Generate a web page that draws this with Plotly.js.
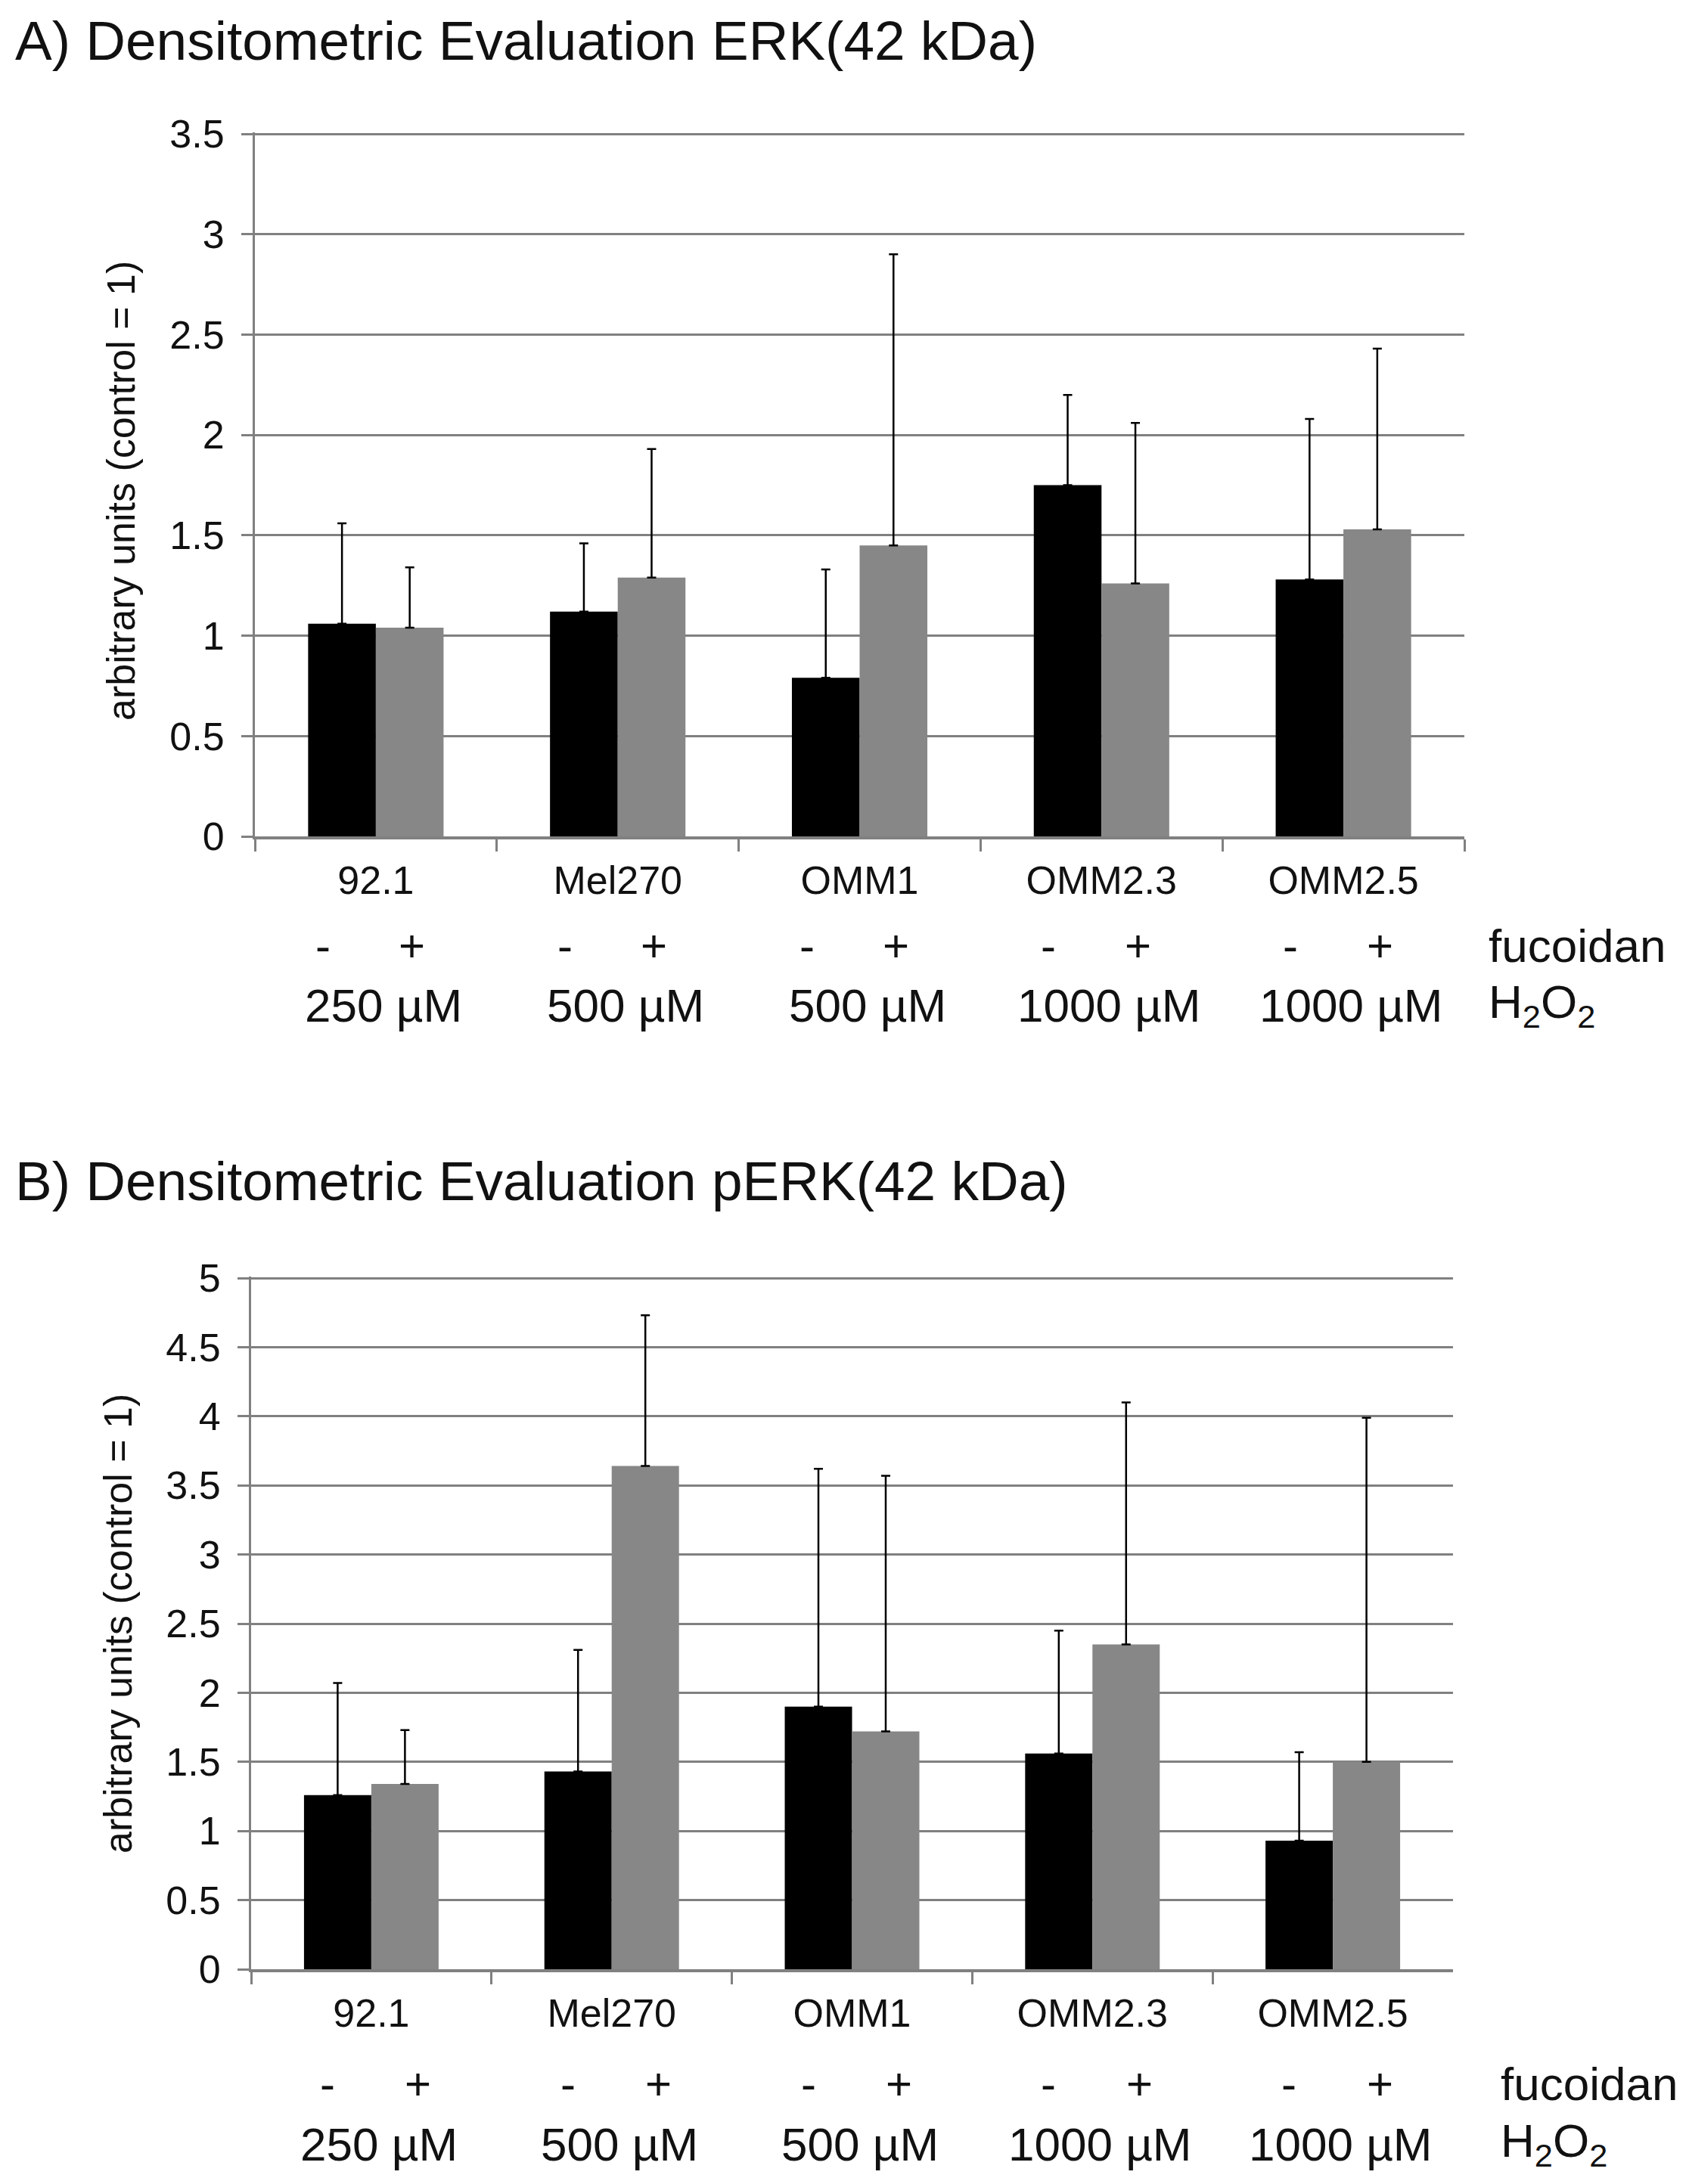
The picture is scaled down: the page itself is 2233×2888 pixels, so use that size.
<!DOCTYPE html>
<html>
<head>
<meta charset="utf-8">
<script src="https://cdn.plot.ly/plotly-3.0.1.min.js"></script>
<style>
  body { margin: 0; background: #fff; }
  #graph { width: 2233px; height: 2888px; }
</style>
</head>
<body>
<div id="graph"></div>
<script>
// cell lines and treatment labels
var cellLines = ['92.1', 'Mel270', 'OMM1', 'OMM2.3', 'OMM2.5'];
var h2o2Doses = ['250 µM', '500 µM', '500 µM', '1000 µM', '1000 µM'];

// A) ERK, bar value and top of the error bar (read off the figure)
var erkMinus    = [1.06, 1.12, 0.79, 1.75, 1.28];
var erkMinusTop = [1.56, 1.46, 1.33, 2.20, 2.08];
var erkPlus     = [1.04, 1.29, 1.45, 1.26, 1.53];
var erkPlusTop  = [1.34, 1.93, 2.90, 2.06, 2.43];

// B) pERK
var perkMinus    = [1.26, 1.43, 1.90, 1.56, 0.93];
var perkMinusTop = [2.07, 2.31, 3.62, 2.45, 1.57];
var perkPlus     = [1.34, 3.64, 1.72, 2.35, 1.50];
var perkPlusTop  = [1.73, 4.73, 3.57, 4.10, 3.99];

var yTicksA = [0, 0.5, 1, 1.5, 2, 2.5, 3, 3.5];
var yTickTextA = ['0', '0.5', '1', '1.5', '2', '2.5', '3', '3.5'];
var yTicksB = [0, 0.5, 1, 1.5, 2, 2.5, 3, 3.5, 4, 4.5, 5];
var yTickTextB = ['0', '0.5', '1', '1.5', '2', '2.5', '3', '3.5', '4', '4.5', '5'];

var W = 2233, H = 2888;
var FONT = 'Liberation Sans, Arial, sans-serif';
var TXT = '#111111';
var GRID = '#808080';

function px(x) { return x / W; }
function py(y) { return 1 - y / H; }
function diff(top, val) { return top.map(function (t, i) { return +(t - val[i]).toFixed(3); }); }
function zeros(a) { return a.map(function () { return 0; }); }

function barTrace(vals, tops, color, xa, ya) {
  return {
    type: 'bar',
    x: cellLines,
    y: vals,
    xaxis: xa,
    yaxis: ya,
    marker: { color: color, line: { width: 0 } },
    error_y: {
      type: 'data', symmetric: false,
      array: diff(tops, vals), arrayminus: zeros(vals),
      color: '#000000', thickness: 2.5, width: 6
    },
    showlegend: false,
    hoverinfo: 'skip'
  };
}

var data = [
  barTrace(erkMinus, erkMinusTop, '#000000', 'x', 'y'),
  barTrace(erkPlus, erkPlusTop, '#878787', 'x', 'y'),
  barTrace(perkMinus, perkMinusTop, '#000000', 'x2', 'y2'),
  barTrace(perkPlus, perkPlusTop, '#878787', 'x2', 'y2')
];

function xAxis(domain, anchor) {
  return {
    domain: domain, anchor: anchor, type: 'category',
    tickson: 'boundaries', ticks: 'outside', ticklen: 16, tickwidth: 3, tickcolor: GRID,
    showline: true, linecolor: GRID, linewidth: 4,
    showgrid: false, zeroline: false,
    ticklabelstandoff: 10,
    tickfont: { family: FONT, size: 52, color: TXT },
    fixedrange: true
  };
}
function yAxis(domain, anchor, range, vals, text) {
  return {
    domain: domain, anchor: anchor, range: range,
    tickvals: vals, ticktext: text,
    ticks: 'outside', ticklen: 15, tickwidth: 3, tickcolor: GRID,
    showgrid: true, gridcolor: GRID, gridwidth: 3,
    showline: true, linecolor: GRID, linewidth: 3,
    zeroline: false,
    ticklabelstandoff: 12,
    tickfont: { family: FONT, size: 52, color: TXT },
    fixedrange: true
  };
}

var annotations = [];
function text(t, x, y, size, opts) {
  var a = {
    text: t, x: x, y: y, xref: 'paper', yref: 'paper',
    xanchor: 'center', yanchor: 'middle', showarrow: false,
    font: { family: FONT, size: size, color: TXT }
  };
  for (var k in opts) a[k] = opts[k];
  annotations.push(a);
}

// panel titles
text('A) Densitometric Evaluation ERK(42 kDa)', px(18), py(54), 73, { xanchor: 'left' });
text('B) Densitometric Evaluation pERK(42 kDa)', px(18), py(1561), 73, { xanchor: 'left' });

// y axis titles
text('arbitrary units (control = 1)', px(160), py(649), 52, { textangle: -90 });
text('arbitrary units (control = 1)', px(156), py(2147), 52, { textangle: -90 });

// treatment rows under each panel
function rows(xref, ySign, yDose, minusShift, plusShift, labelX) {
  cellLines.forEach(function (c, i) {
    text('-', i, py(ySign), 60, { xref: xref, xshift: minusShift });
    text('+', i, py(ySign), 60, { xref: xref, xshift: plusShift });
    text(h2o2Doses[i], i, py(yDose), 62, { xref: xref, xshift: 10 });
  });
  text('fucoidan', px(labelX), py(ySign), 62, { xanchor: 'left' });
  text('H<sub>2</sub>O<sub>2</sub>', px(labelX), py(yDose), 62, { xanchor: 'left' });
}
rows('x', 1250, 1329, -70, 48, 1966);
rows('x2', 2755, 2835, -58, 62, 1982);

// ranges reach a hair past the top tick so its grid line is drawn
var layout = {
  width: W, height: H,
  margin: { l: 0, r: 0, t: 0, b: 0 },
  paper_bgcolor: '#ffffff', plot_bgcolor: '#ffffff',
  barmode: 'group', bargap: 0.44, bargroupgap: 0,
  xaxis: xAxis([px(337), px(1936)], 'y'),
  yaxis: yAxis([py(1106), py(175)], 'x', [0, 3.508], yTicksA, yTickTextA),
  xaxis2: xAxis([px(332), px(1921)], 'y2'),
  yaxis2: yAxis([py(2604), py(1688)], 'x2', [0, 5.011], yTicksB, yTickTextB),
  annotations: annotations
};

Plotly.newPlot('graph', data, layout, { displayModeBar: false, staticPlot: true });
</script>
</body>
</html>
